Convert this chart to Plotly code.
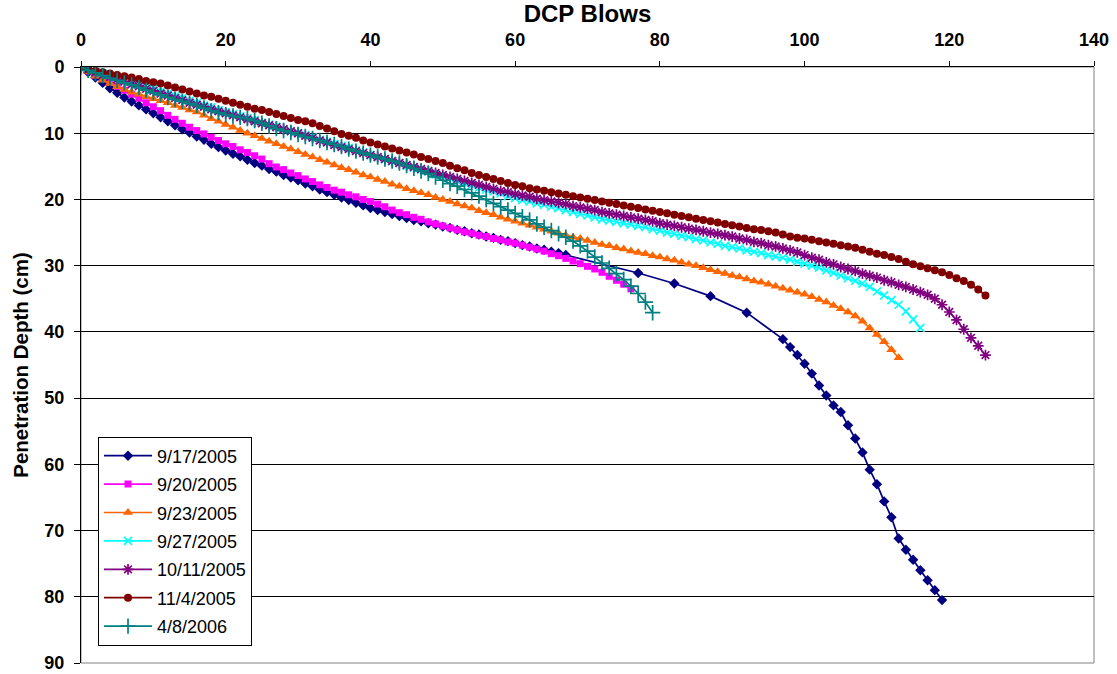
import plotly.graph_objects as go

# ---------------- data ----------------
series_names = ["9/17/2005", "9/20/2005", "9/23/2005", "9/27/2005",
                "10/11/2005", "11/4/2005", "4/8/2006"]

blows_0917 = list(range(0, 68)) + [77, 82, 87, 92] + list(range(97, 120))
depth_0917 = [0, 0.8, 1.6, 2.4, 3.2, 3.9, 4.6, 5.2, 5.8, 6.4,
              7.0, 7.6, 8.2, 8.8, 9.4, 9.9, 10.5, 11.0, 11.6, 12.1,
              12.6, 13.1, 13.5, 14.0, 14.5, 14.9, 15.4, 15.8, 16.3, 16.7,
              17.1, 17.6, 18.0, 18.5, 18.9, 19.3, 19.7, 20.1, 20.5, 20.9,
              21.3, 21.6, 21.9, 22.2, 22.5, 22.8, 23.1, 23.3, 23.6, 23.8,
              24.1, 24.3, 24.6, 24.8, 25.1, 25.3, 25.6, 25.8, 26.1, 26.3,
              26.6, 26.9, 27.1, 27.4, 27.6, 27.9, 28.1, 28.4,
              31.1, 32.7, 34.6, 37.1,
              41.1, 42.3, 43.5, 44.8, 46.3, 48.1, 49.6, 51.1, 52.1, 54.1,
              56.1, 58.2, 60.8, 63.0, 65.6, 68.0, 71.2, 72.9, 74.4, 76.0,
              77.5, 79.0, 80.5]

blows_0920 = list(range(0, 77))
depth_0920 = [0, 0.6, 1.2, 1.7, 2.3, 2.9, 3.5, 4.1, 4.7, 5.4,
              6.0, 6.6, 7.3, 7.9, 8.5, 9.1, 9.6, 10.1, 10.6, 11.1,
              11.6, 12.0, 12.5, 12.9, 13.4, 13.9, 14.6, 15.1, 15.5, 16.0,
              16.4, 16.9, 17.3, 17.8, 18.2, 18.6, 18.9, 19.3, 19.6, 20.0,
              20.3, 20.7, 21.1, 21.6, 22.0, 22.3, 22.7, 23.0, 23.4, 23.7,
              24.0, 24.3, 24.6, 24.9, 25.1, 25.4, 25.6, 25.9, 26.1, 26.4,
              26.6, 26.9, 27.2, 27.5, 27.8, 28.2, 28.5, 28.9, 29.3, 29.7,
              30.1, 30.5, 31.0, 31.6, 32.2, 32.8, 33.5]

blows_0923 = list(range(0, 114))
depth_0923 = [0, 0.7, 1.4, 2.0, 2.5, 3.0, 3.4, 3.8, 4.1, 4.5,
              4.8, 5.1, 5.4, 5.8, 6.1, 6.5, 6.8, 7.3, 7.8, 8.2,
              8.7, 9.1, 9.6, 10.0, 10.4, 10.8, 11.2, 11.6, 12.0, 12.4,
              12.8, 13.2, 13.6, 14.0, 14.4, 14.8, 15.2, 15.5, 15.9, 16.3,
              16.6, 17.0, 17.3, 17.7, 18.0, 18.4, 18.7, 19.0, 19.3, 19.7,
              20.0, 20.3, 20.7, 21.0, 21.3, 21.7, 22.0, 22.3, 22.7, 23.0,
              23.3, 23.6, 23.9, 24.2, 24.5, 24.8, 25.1, 25.4, 25.7, 25.9,
              26.2, 26.5, 26.8, 27.0, 27.3, 27.5, 27.8, 28.0, 28.2, 28.5,
              28.7, 29.0, 29.2, 29.5, 29.8, 30.0, 30.3, 30.6, 30.9, 31.2,
              31.5, 31.7, 32.0, 32.3, 32.5, 32.8, 33.1, 33.4, 33.7, 34.0,
              34.3, 34.7, 35.1, 35.5, 36.0, 36.5, 37.0, 37.6, 38.4, 39.4,
              40.4, 41.5, 42.7, 43.9]

blows_0927 = list(range(0, 117))
depth_0927 = [0, 0.3, 0.7, 1.0, 1.3, 1.7, 2.0, 2.3, 2.6, 3.0,
              3.3, 3.7, 4.0, 4.4, 4.7, 5.1, 5.4, 5.8, 6.1, 6.5,
              6.8, 7.1, 7.4, 7.7, 8.0, 8.4, 8.7, 9.0, 9.4, 9.7,
              10.0, 10.3, 10.6, 11.0, 11.3, 11.6, 11.9, 12.2, 12.6, 12.9,
              13.3, 13.6, 13.9, 14.2, 14.5, 14.9, 15.2, 15.5, 15.8, 16.2,
              16.5, 16.8, 17.2, 17.5, 17.8, 18.2, 18.5, 18.8, 19.1, 19.5,
              19.8, 20.1, 20.3, 20.6, 20.8, 21.1, 21.3, 21.6, 21.9, 22.2,
              22.4, 22.7, 23.0, 23.2, 23.4, 23.6, 23.8, 24.0, 24.2, 24.5,
              24.7, 25.0, 25.2, 25.5, 25.7, 26.0, 26.2, 26.5, 26.7, 27.0,
              27.2, 27.4, 27.7, 27.9, 28.1, 28.4, 28.6, 28.8, 29.1, 29.4,
              29.7, 30.0, 30.3, 30.7, 31.1, 31.5, 31.9, 32.3, 32.7, 33.2,
              33.9, 34.5, 35.2, 35.9, 36.9, 38.1, 39.4]

blows_1011 = list(range(0, 126))
depth_1011 = [0, 0.4, 0.8, 1.2, 1.5, 1.9, 2.2, 2.6, 2.9, 3.3,
              3.6, 4.0, 4.3, 4.7, 5.0, 5.4, 5.7, 6.0, 6.4, 6.7,
              7.0, 7.3, 7.6, 7.9, 8.2, 8.5, 8.8, 9.1, 9.4, 9.7,
              10.0, 10.4, 10.7, 11.1, 11.4, 11.8, 12.1, 12.4, 12.7, 13.0,
              13.3, 13.6, 13.9, 14.2, 14.5, 14.8, 15.1, 15.4, 15.7, 16.0,
              16.3, 16.6, 16.9, 17.2, 17.5, 17.8, 18.1, 18.4, 18.7, 18.9,
              19.2, 19.4, 19.6, 19.9, 20.1, 20.3, 20.5, 20.7, 21.0, 21.2,
              21.4, 21.6, 21.9, 22.1, 22.3, 22.5, 22.7, 22.9, 23.1, 23.3,
              23.6, 23.8, 24.0, 24.2, 24.4, 24.6, 24.8, 25.0, 25.2, 25.4,
              25.6, 25.9, 26.1, 26.4, 26.6, 26.9, 27.1, 27.4, 27.7, 28.0,
              28.4, 28.8, 29.1, 29.5, 29.8, 30.2, 30.5, 30.8, 31.2, 31.5,
              31.8, 32.2, 32.5, 32.9, 33.2, 33.6, 34.0, 34.4, 35.0, 35.9,
              37.0, 38.2, 39.6, 40.9, 42.1, 43.5]

blows_1104 = list(range(0, 126))
depth_1104 = [0, 0.3, 0.6, 0.8, 1.0, 1.2, 1.4, 1.6, 1.8, 2.1,
              2.3, 2.5, 2.8, 3.1, 3.4, 3.7, 4.0, 4.3, 4.5, 4.8,
              5.1, 5.4, 5.7, 6.0, 6.3, 6.5, 6.8, 7.1, 7.4, 7.7,
              8.0, 8.2, 8.5, 8.9, 9.3, 9.7, 10.1, 10.4, 10.7, 11.1,
              11.4, 11.7, 12.0, 12.3, 12.6, 12.9, 13.2, 13.6, 13.9, 14.2,
              14.5, 14.9, 15.3, 15.6, 16.0, 16.3, 16.6, 16.9, 17.2, 17.5,
              17.8, 18.0, 18.3, 18.5, 18.7, 18.9, 19.1, 19.3, 19.5, 19.7,
              19.9, 20.1, 20.3, 20.5, 20.7, 20.9, 21.1, 21.3, 21.5, 21.7,
              21.9, 22.1, 22.3, 22.5, 22.7, 22.9, 23.1, 23.3, 23.5, 23.7,
              23.9, 24.1, 24.3, 24.5, 24.6, 24.8, 25.0, 25.3, 25.6, 25.8,
              25.9, 26.1, 26.3, 26.5, 26.7, 26.9, 27.1, 27.3, 27.6, 27.9,
              28.2, 28.4, 28.7, 29.0, 29.4, 29.8, 30.1, 30.4, 30.7, 31.0,
              31.4, 31.9, 32.3, 32.9, 33.6, 34.5]

blows_0408 = list(range(0, 80))
depth_0408 = [0, 0.5, 0.9, 1.3, 1.7, 2.0, 2.4, 2.7, 3.1, 3.5,
              3.9, 4.2, 4.6, 4.9, 5.2, 5.5, 5.8, 6.2, 6.6, 6.9,
              7.2, 7.4, 7.6, 7.8, 8.1, 8.5, 8.9, 9.3, 9.6, 9.9,
              10.2, 10.5, 10.8, 11.1, 11.4, 11.7, 12.0, 12.4, 12.7, 13.0,
              13.3, 13.6, 13.9, 14.2, 14.5, 14.9, 15.3, 15.7, 16.1, 16.6,
              17.1, 17.6, 18.0, 18.5, 19.0, 19.5, 20.0, 20.6, 21.1, 21.6,
              22.1, 22.6, 23.1, 23.7, 24.2, 24.7, 25.2, 25.7, 26.3, 27.0,
              27.8, 28.7, 29.6, 30.4, 31.2, 32.1, 33.1, 34.2, 35.5, 37.1]

x_ticks = [0, 20, 40, 60, 80, 100, 120, 140]
y_ticks = [0, 10, 20, 30, 40, 50, 60, 70, 80, 90]

# ---------------- styling ----------------
FONT = "Liberation Sans, Arial, sans-serif"
styles = [
    dict(color="#000080", symbol="diamond", size=8),
    dict(color="#FF00FF", symbol="square", size=7),
    dict(color="#FF6600", symbol="triangle-up", size=9),
    dict(color="#00FFFF", symbol="x-thin", size=8),
    dict(color="#800080", symbol="asterisk", size=9),
    dict(color="#800000", symbol="circle", size=8),
    dict(color="#008080", symbol="cross-thin", size=11),
]
xs = [blows_0917, blows_0920, blows_0923, blows_0927, blows_1011, blows_1104, blows_0408]
ys = [depth_0917, depth_0920, depth_0923, depth_0927, depth_1011, depth_1104, depth_0408]

fig = go.Figure()
for name, x, y, st in zip(series_names, xs, ys, styles):
    thin = st["symbol"] in ("x-thin", "asterisk", "cross-thin")
    marker = dict(symbol=st["symbol"], size=st["size"], color=st["color"],
                  line=dict(color=st["color"], width=1.7 if thin else 0))
    fig.add_trace(go.Scatter(
        x=x, y=y, name=name, mode="lines+markers",
        line=dict(color=st["color"], width=1.7),
        marker=marker, legendgroup=name,
    ))

fig.update_layout(
    width=1117, height=674,
    margin=dict(l=81, r=23, t=67, b=11),
    paper_bgcolor="white", plot_bgcolor="white",
    font=dict(family=FONT, color="black"),
    showlegend=True,
    legend=dict(
        x=0.0168, y=0.38, xanchor="left", yanchor="top",
        bgcolor="white", bordercolor="black", borderwidth=1,
        font=dict(family=FONT, size=18, color="black"),
        tracegroupgap=2, itemwidth=48,
    ),
    shapes=[dict(type="rect", xref="paper", yref="paper", x0=0, x1=1, y0=0, y1=1,
                 line=dict(color="#808080", width=1), layer="below")],
)

fig.update_xaxes(
    side="top", range=[0, 140], tickvals=x_ticks, automargin=False,
    ticks="outside", ticklen=5, tickcolor="black",
    showline=True, linecolor="black", linewidth=1,
    showgrid=False, zeroline=False, ticklabeloverflow="allow",
    tickfont=dict(family=FONT, size=18, weight="bold", color="black"),
    ticklabelstandoff=8,
    title=dict(text="DCP Blows", standoff=1,
               font=dict(family=FONT, size=24, weight="bold", color="black")),
)
fig.update_yaxes(
    range=[90, 0], tickvals=y_ticks, automargin=False,
    ticks="outside", ticklen=6, tickcolor="black",
    showline=True, linecolor="black", linewidth=1,
    showgrid=True, gridcolor="black", gridwidth=1, zeroline=False,
    ticklabeloverflow="allow",
    tickfont=dict(family=FONT, size=18, weight="bold", color="black"),
    ticklabelstandoff=6,
    title=dict(text="Penetration Depth (cm)", standoff=10,
               font=dict(family=FONT, size=20.5, weight="bold", color="black")),
)

# remove the browser's default 8px page margin so the figure sits at (0, 0)
fig.write_html("out.html", config={"displayModeBar": False},
               post_script="document.body.style.margin='0';")
